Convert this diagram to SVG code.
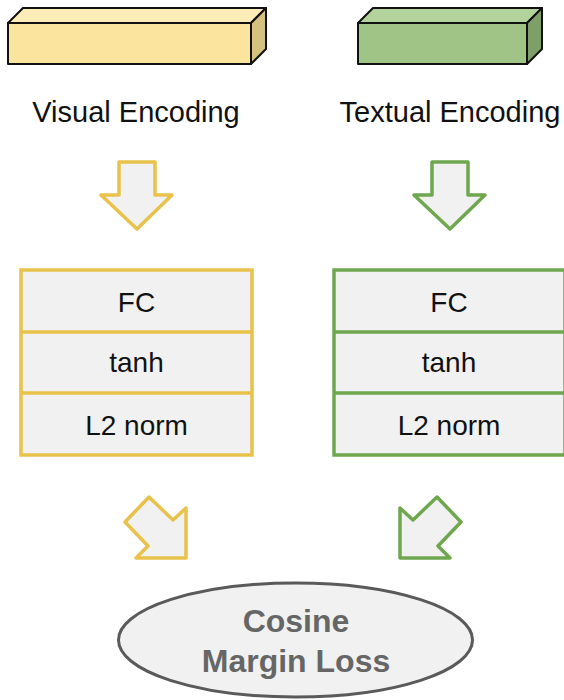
<svg xmlns="http://www.w3.org/2000/svg" width="564" height="700" viewBox="0 0 564 700">
  <style>
    .lbl { font-family: "Liberation Sans", Arial, sans-serif; fill: #111111; text-anchor: middle; }
    .enc { font-size: 29px; }
    .cell { font-size: 28px; }
    .bar { stroke: #111111; stroke-width: 2; stroke-linejoin: round; }
    .ystroke { stroke: #e8c24a; }
    .gstroke { stroke: #6fa74f; }
    .stack { fill: #f1f1f1; stroke-width: 3.5; }
    .arrow { fill: #f1f1f1; stroke-width: 3.5; stroke-linejoin: round; }
    .loss { font-family: "Liberation Sans", Arial, sans-serif; font-weight: bold; font-size: 32px; fill: #666666; text-anchor: middle; }
  </style>
  <rect width="564" height="700" fill="#ffffff"/>

  <g id="visual-encoding">
    <polygon class="bar" points="8,23 23,8 266,8 251,23" fill="#fcedb8"/>
    <polygon class="bar" points="251,23 266,8 266,49 251,64" fill="#d5c27f"/>
    <rect class="bar" x="8" y="23" width="243" height="41" fill="#fbe49e"/>
    <text class="lbl enc" x="136" y="122">Visual Encoding</text>
  </g>

  <g id="textual-encoding">
    <polygon class="bar" points="358,23 373,8 542,8 527,23" fill="#b3d39d"/>
    <polygon class="bar" points="527,23 542,8 542,49 527,64" fill="#7e9f68"/>
    <rect class="bar" x="358" y="23" width="169" height="41" fill="#9fc485"/>
    <text class="lbl enc" x="450" y="122">Textual Encoding</text>
  </g>

  <g id="visual-stack">
    <rect class="stack ystroke" x="21" y="270" width="231" height="185"/>
    <line class="ystroke" x1="21" y1="332" x2="252" y2="332" stroke-width="3.5"/>
    <line class="ystroke" x1="21" y1="393" x2="252" y2="393" stroke-width="3.5"/>
    <text class="lbl cell" x="136.5" y="312">FC</text>
    <text class="lbl cell" x="136.5" y="372">tanh</text>
    <text class="lbl cell" x="136.5" y="435">L2 norm</text>
  </g>

  <g id="textual-stack">
    <rect class="stack gstroke" x="334" y="270" width="231" height="185"/>
    <line class="gstroke" x1="334" y1="332" x2="565" y2="332" stroke-width="3.5"/>
    <line class="gstroke" x1="334" y1="393" x2="565" y2="393" stroke-width="3.5"/>
    <text class="lbl cell" x="449" y="312">FC</text>
    <text class="lbl cell" x="449" y="372">tanh</text>
    <text class="lbl cell" x="449" y="435">L2 norm</text>
  </g>

  <g id="cosine-margin-loss">
    <ellipse cx="295.5" cy="640" rx="177" ry="57" fill="#f1f1f1" stroke="#5a5a5a" stroke-width="3"/>
    <text class="loss" x="296" y="632">Cosine</text>
    <text class="loss" x="296" y="672">Margin Loss</text>
  </g>

  <g id="connectors">
    <polygon class="arrow ystroke" points="119,162 155,162 155,195 172,195 137,229 101,195 119,195"/>
    <polygon class="arrow gstroke" points="432,162 468,162 468,195 485,195 450,229 414,195 432,195"/>
    <polygon class="arrow ystroke" points="125,522 149,497 173,520 186,508 186,558 136,558 148,546"/>
    <polygon class="arrow gstroke" points="461,522 437,497 413,520 400,508 400,558 450,558 438,546"/>
  </g>
</svg>
